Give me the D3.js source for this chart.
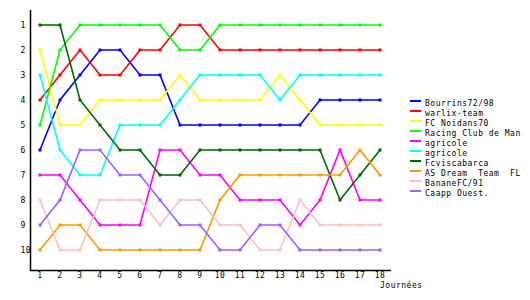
<!DOCTYPE html>
<html>
<head>
<meta charset="utf-8">
<script src="https://cdn.jsdelivr.net/npm/d3@7"></script>
<style>
  body { margin: 0; background: #fff; }
  text { font-family: "DejaVu Sans Mono", monospace; font-size: 8px; letter-spacing: 0.5px; fill: #000; }
</style>
</head>
<body>
<svg id="chart" width="530" height="300"></svg>
<script>
// classement par journée
var journees = d3.range(1, 19);
var rangs = d3.range(1, 11);

var teams = ["Bourrins72/98", "warlix-team", "FC Noidans70", "Racing Club de Man", "agricole",
             "agricole", "Fcviscabarca", "AS Dream  Team  FL", "BananeFC/91", "Caapp Ouest."];
var colors = ["#0000ff", "#ff0000", "#ffff00", "#00ff00", "#ff00ff",
              "#00ffff", "#006600", "#ff9900", "#ffc0c0", "#a35cff"];

var bourrins   = [6, 4, 3, 2, 2, 3, 3, 5, 5, 5, 5, 5, 5, 5, 4, 4, 4, 4];
var warlix     = [4, 3, 2, 3, 3, 2, 2, 1, 1, 2, 2, 2, 2, 2, 2, 2, 2, 2];
var noidans    = [2, 5, 5, 4, 4, 4, 4, 3, 4, 4, 4, 4, 3, 4, 5, 5, 5, 5];
var racing     = [5, 2, 1, 1, 1, 1, 1, 2, 2, 1, 1, 1, 1, 1, 1, 1, 1, 1];
var agricole1  = [7, 7, 8, 9, 9, 9, 6, 6, 7, 7, 8, 8, 8, 9, 8, 6, 8, 8];
var agricole2  = [3, 6, 7, 7, 5, 5, 5, 4, 3, 3, 3, 3, 4, 3, 3, 3, 3, 3];
var viscabarca = [1, 1, 4, 5, 6, 6, 7, 7, 6, 6, 6, 6, 6, 6, 6, 8, 7, 6];
var asDream    = [10, 9, 9, 10, 10, 10, 10, 10, 10, 8, 7, 7, 7, 7, 7, 7, 6, 7];
var banane     = [8, 10, 10, 8, 8, 8, 9, 8, 8, 9, 9, 10, 10, 8, 9, 9, 9, 9];
var caapp      = [9, 8, 6, 6, 7, 7, 8, 9, 9, 10, 10, 9, 9, 10, 10, 10, 10, 10];

var series = [bourrins, warlix, noidans, racing, agricole1, agricole2, viscabarca, asDream, banane, caapp];

var svg = d3.select("#chart");

var x = d3.scaleLinear().domain([1, 18]).range([40, 380]);
var y = d3.scaleLinear().domain([1, 10]).range([25, 250]);

// axes
svg.append("line").attr("x1", 30.5).attr("x2", 30.5).attr("y1", 10).attr("y2", 271).attr("stroke", "#000").attr("stroke-width", 1.5);
svg.append("line").attr("x1", 30).attr("x2", 391).attr("y1", 270.5).attr("y2", 270.5).attr("stroke", "#000").attr("stroke-width", 1.5);

svg.selectAll(".ylab").data(rangs).enter().append("text")
    .attr("x", 20.5).attr("y", function(d){ return y(d) + 3; })
    .text(function(d){ return d; });

svg.selectAll(".xlab").data(journees).enter().append("text")
    .attr("x", function(d){ return x(d); }).attr("y", 278)
    .attr("text-anchor", "middle")
    .text(function(d){ return d; });

svg.append("text").attr("x", 380).attr("y", 288).text("Journées");

// lignes
var line = d3.line().x(function(d, i){ return x(i + 1); }).y(function(d){ return y(d); });

series.forEach(function(s, k){
    var g = svg.append("g");
    g.append("path").attr("d", line(s)).attr("fill", "none")
        .attr("stroke", colors[k]).attr("stroke-width", 1.6);
    g.selectAll("rect").data(s).enter().append("rect")
        .attr("x", function(d, i){ return x(i + 1) - 1.5; })
        .attr("y", function(d){ return y(d) - 1.5; })
        .attr("width", 3).attr("height", 3)
        .attr("fill", colors[k]);
});

// légende
var leg = svg.selectAll(".leg").data(teams).enter().append("g")
    .attr("transform", function(d, i){ return "translate(410," + (101 + 10 * i) + ")"; });
leg.append("rect").attr("x", 0).attr("y", -1).attr("width", 11).attr("height", 2)
    .attr("fill", function(d, i){ return colors[i]; });
leg.append("text").attr("x", 15).attr("y", 5).attr("xml:space", "preserve")
    .style("white-space", "pre")
    .text(function(d){ return d; });
</script>
</body>
</html>
